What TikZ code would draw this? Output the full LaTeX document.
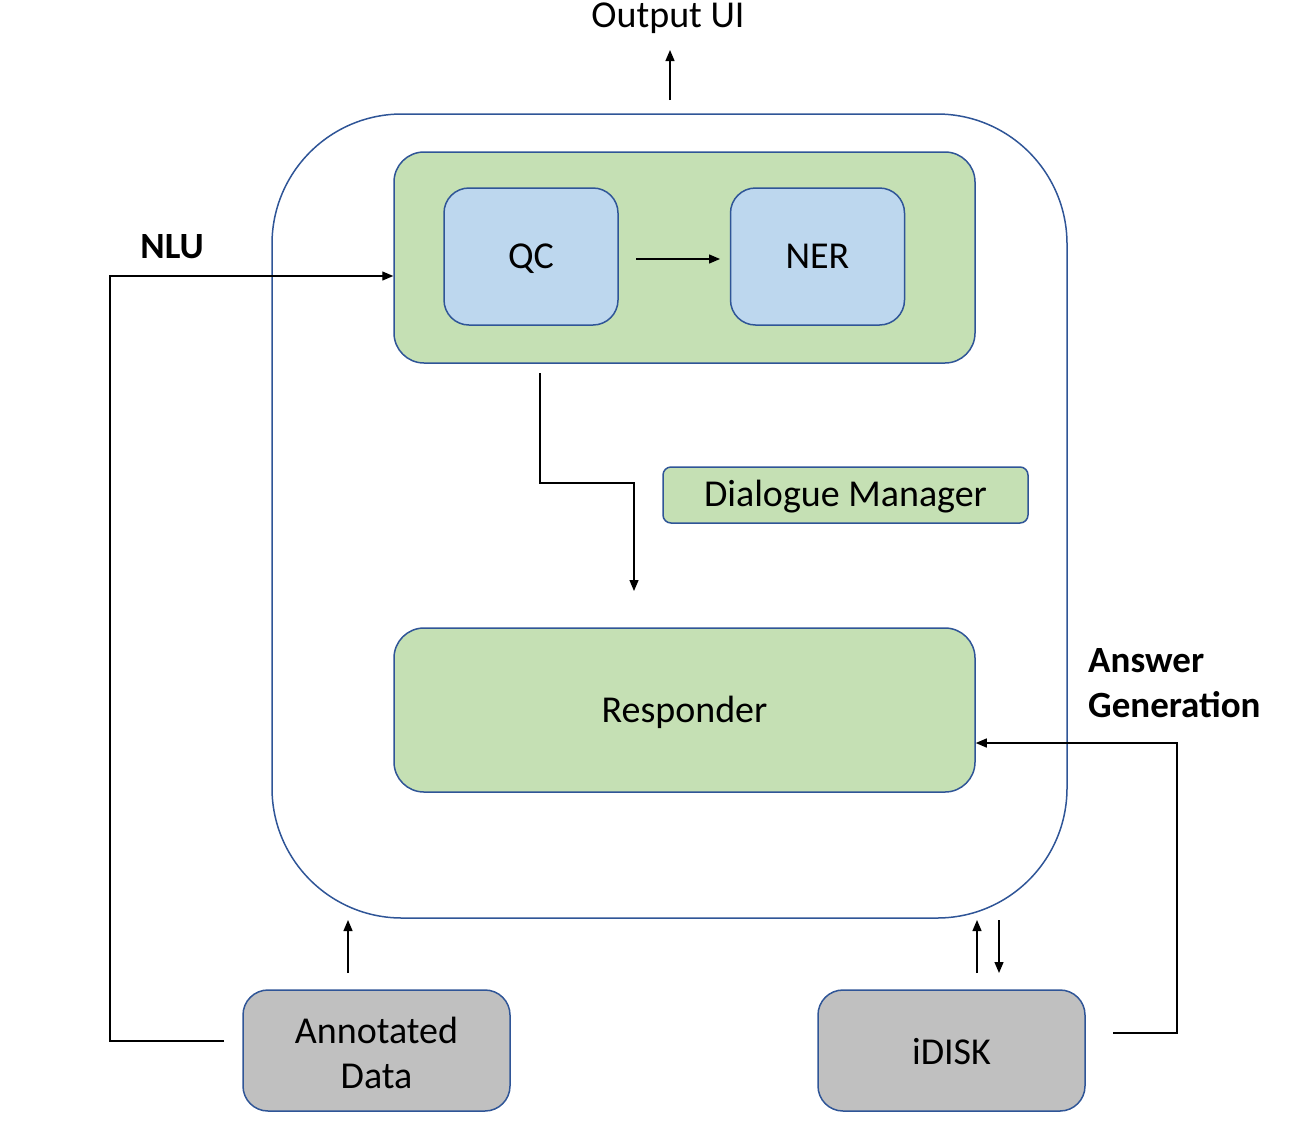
\documentclass[tikz,border=0pt]{standalone}
\usepackage{fontspec}
\setmainfont{Carlito}
\usetikzlibrary{arrows.meta}
\definecolor{bordblue}{HTML}{2F5597}
\definecolor{boxgreen}{HTML}{C5E0B4}
\definecolor{boxblue}{HTML}{BDD7EE}
\definecolor{boxgray}{HTML}{C0C0C0}
\tikzset{
  base/.style={draw=bordblue, line width=1.5pt, inner sep=0pt, font=\fontsize{38}{45}\selectfont, align=center},
  greenbox/.style={base, fill=boxgreen},
  bluebox/.style={base, fill=boxblue, rounded corners=25pt, minimum width=174pt, minimum height=137pt},
  graybox/.style={base, fill=boxgray, rounded corners=25pt, minimum width=267pt, minimum height=121pt},
  conn/.style={line width=1.3pt, -{Triangle[length=11pt,width=9pt]}},
  lbl/.style={font=\fontsize{37}{45}\selectfont\bfseries, inner sep=0pt, align=left},
}
\begin{document}
\begin{tikzpicture}[x=1pt,y=-1pt]
\useasboundingbox (0,0) rectangle (1308,1125);
% outer container
\node[base, rounded corners=130pt, minimum width=795pt, minimum height=804pt, fill=none] (outer) at (669.5,516) {};
% NLU box
\node[greenbox, rounded corners=30pt, minimum width=581pt, minimum height=211pt] (nlu) at (684.5,257.5) {};
\node[bluebox, text depth=0pt] (qc) at (531,256.5) {QC};
\node[bluebox, text depth=0pt] (ner) at (817.5,256.5) {NER};
% Dialogue manager
\node[greenbox, rounded corners=8pt, minimum width=365pt, minimum height=56pt] (dm) at (845.5,495) {};
\node[font=\fontsize{38}{45}\selectfont, inner sep=0pt] (dmtext) at (845.5,497) {Dialogue Manager};
% Responder
\node[greenbox, rounded corners=30pt, minimum width=581pt, minimum height=164pt] (resp) at (684.5,710) {};
\node[font=\fontsize{38}{45}\selectfont, inner sep=0pt] (resptext) at (684.5,712) {Responder};
% bottom boxes
\node[graybox] (ann) at (376.5,1050.5) {};
\node[font=\fontsize{38}{45}\selectfont, inner sep=0pt, align=center] (anntext) at (376.5,1053) {Annotated\\Data};
\node[graybox] (idisk) at (951.5,1050.5) {};
\node[font=\fontsize{38}{45}\selectfont, inner sep=0pt] (idisktext) at (951.5,1052) {iDISK};
% labels
\node[font=\fontsize{38}{45}\selectfont, inner sep=0pt] (out) at (668,18) {Output UI};
\node[lbl] (nlulbl) at (172,247) {NLU};
\node[lbl, anchor=west] (anslbl) at (1088,683) {Answer\\Generation};
% coordinates
\coordinate (oA) at (670,100);
\coordinate (oB) at (670,50);
\coordinate (q1) at (636,259);
\coordinate (q2) at (720,259);
\coordinate (a0) at (224,1041);
\coordinate (a1) at (110,1041);
\coordinate (a2) at (110,276);
\coordinate (a3) at (348,973);
\coordinate (a4) at (348,920);
\coordinate (n0) at (540,373);
\coordinate (n1) at (540,483);
\coordinate (n2) at (634,483);
\coordinate (n3) at (634,591);
\coordinate (i0) at (977,973);
\coordinate (i1) at (977,920);
\coordinate (i2) at (999,920);
\coordinate (i3) at (999,973);
\coordinate (g0) at (1113,1033);
\coordinate (g1) at (1177,1033);
\coordinate (g2) at (1177,743);
% connectors
\draw[conn] (oA) -- (oB);
\draw[conn] (q1) -- (q2);
\draw[conn] (a0) -- (a1) -- (a2) -- (a2 -| nlu.west);
\draw[conn] (a3) -- (a4);
\draw[conn] (n0) -- (n1) -- (n2) -- (n3);
\draw[conn] (i0) -- (i1);
\draw[conn] (i2) -- (i3);
\draw[conn] (g0) -- (g1) -- (g2) -- (g2 -| resp.east);
\end{tikzpicture}
\end{document}
